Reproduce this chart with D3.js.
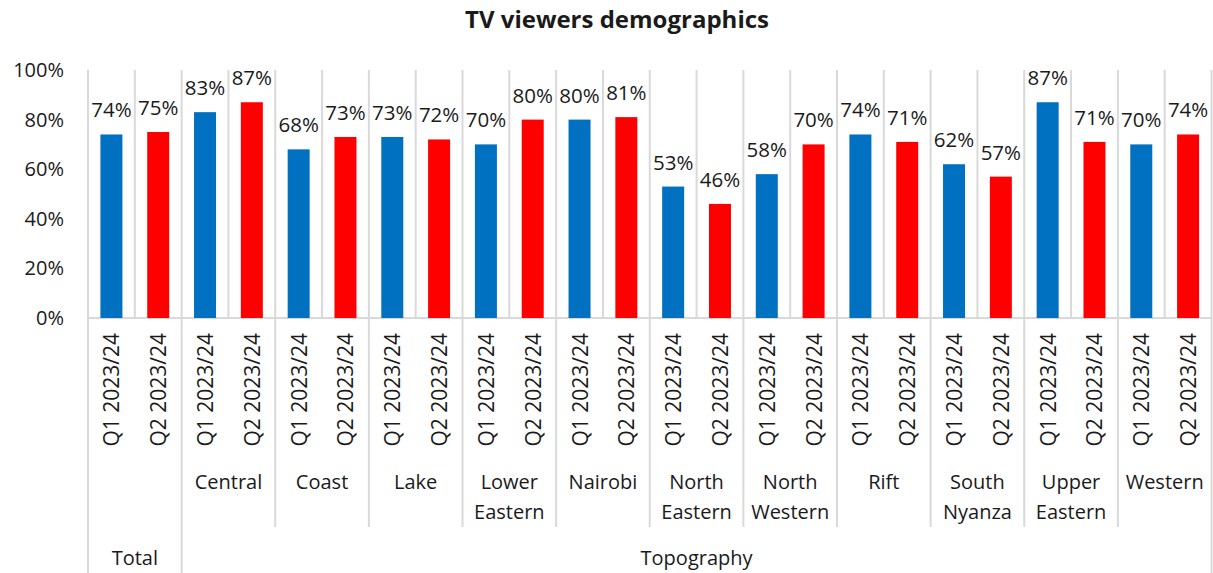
<!DOCTYPE html>
<html>
<head>
<meta charset="utf-8">
<script src="https://cdn.jsdelivr.net/npm/d3@7/dist/d3.min.js"></script>
<style>
  html, body { margin: 0; padding: 0; background: #fff; }
  svg { display: block; font-family: "Open Sans", "Noto Sans", sans-serif; }
</style>
</head>
<body>
<svg id="chart" width="1213" height="573"></svg>
<script>
// Regions (second axis level); the first group is the national total
const groups = ["", "Central", "Coast", "Lake", "Lower Eastern", "Nairobi", "North Eastern",
                "North Western", "Rift", "South Nyanza", "Upper Eastern", "Western"];
// Top axis level and how many region groups each one spans
const sections = ["Total", "Topography"];
const sectionSpans = [1, 11];
// Quarters (first axis level)
const periods = ["Q1 2023/24", "Q2 2023/24"];
// Share of respondents watching TV, per region and quarter
const q1Values = [0.74, 0.83, 0.68, 0.73, 0.70, 0.80, 0.53, 0.58, 0.74, 0.62, 0.87, 0.70];
const q2Values = [0.75, 0.87, 0.73, 0.72, 0.80, 0.81, 0.46, 0.70, 0.71, 0.57, 0.71, 0.74];
const yTicks = [0, 0.2, 0.4, 0.6, 0.8, 1.0];
const seriesColors = ["#0070C0", "#FF0000"];
const title = "TV viewers demographics";

const svg = d3.select("#chart");
const gridColor = "#d9d9d9";
const textColor = "#1a1a1a";

const plot = { left: 88, right: 1211.5, top: 70, bottom: 318 };

// One row per bar
const rows = [];
groups.forEach((g, gi) => {
  [q1Values, q2Values].forEach((vals, pi) => {
    rows.push({ key: gi + "|" + pi, group: gi, period: pi, value: vals[gi] });
  });
});

const x = d3.scaleBand()
  .domain(rows.map(d => d.key))
  .range([plot.left, plot.right])
  .paddingInner(0).paddingOuter(0);
const bw = x.bandwidth();
const barW = bw * 0.47;

const y = d3.scaleLinear().domain([0, 1]).range([plot.bottom, plot.top]);

// Title
svg.append("text")
  .attr("x", 617).attr("y", 28)
  .attr("text-anchor", "middle")
  .attr("font-size", 24).attr("font-weight", "bold")
  .attr("fill", textColor)
  .text(title);

// Y axis labels
const yAxis = d3.axisLeft(y).tickValues(yTicks).tickFormat(d3.format(".0%")).tickSize(0).tickPadding(0);
const yg = svg.append("g").attr("transform", `translate(${64},0)`).call(yAxis);
yg.select(".domain").remove();
yg.selectAll("text").attr("font-size", 20).attr("fill", textColor)
  .attr("font-family", "'Open Sans', 'Noto Sans', sans-serif");

// Vertical gridlines at every category boundary in the plot area
const boundaries = rows.map(d => x(d.key)).concat([plot.right]);
svg.append("g").selectAll("line").data(boundaries).join("line")
  .attr("x1", d => d).attr("x2", d => d)
  .attr("y1", plot.top).attr("y2", plot.bottom)
  .attr("stroke", gridColor).attr("stroke-width", 2);

// Category axis baseline
svg.append("line")
  .attr("x1", plot.left).attr("x2", plot.right)
  .attr("y1", plot.bottom).attr("y2", plot.bottom)
  .attr("stroke", gridColor).attr("stroke-width", 2);

// Bars
svg.append("g").selectAll("rect").data(rows).join("rect")
  .attr("x", d => x(d.key) + (bw - barW) / 2)
  .attr("width", barW)
  .attr("y", d => y(d.value))
  .attr("height", d => y(0) - y(d.value))
  .attr("fill", d => seriesColors[d.period]);

// Value labels
svg.append("g").selectAll("text").data(rows).join("text")
  .attr("x", d => x(d.key) + bw / 2)
  .attr("y", d => y(d.value) - 17)
  .attr("text-anchor", "middle")
  .attr("font-size", 20.5).attr("fill", textColor)
  .text(d => d3.format(".0%")(d.value));

// First axis level: quarter labels, rotated
svg.append("g").selectAll("text").data(rows).join("text")
  .attr("transform", d => `translate(${x(d.key) + bw / 2},${333}) rotate(-90)`)
  .attr("text-anchor", "end")
  .attr("dominant-baseline", "central")
  .attr("font-size", 21).attr("fill", textColor)
  .text(d => periods[d.period]);

// Second axis level: region labels and separators
const groupW = bw * periods.length;
const groupEdges = d3.range(groups.length + 1).map(i => plot.left + i * groupW);
const sectionEdgeIdx = [0];
sectionSpans.reduce((acc, s) => { sectionEdgeIdx.push(acc + s); return acc + s; }, 0);

svg.append("g").selectAll("line").data(groupEdges).join("line")
  .attr("x1", d => d).attr("x2", d => d)
  .attr("y1", plot.bottom)
  .attr("y2", (d, i) => sectionEdgeIdx.includes(i) ? 573 : 527)
  .attr("stroke", gridColor).attr("stroke-width", 2);

const gLabels = svg.append("g").selectAll("text").data(groups).join("text")
  .attr("x", (d, i) => plot.left + (i + 0.5) * groupW)
  .attr("y", 489)
  .attr("text-anchor", "middle")
  .attr("font-size", 20).attr("fill", textColor);
gLabels.each(function (d) {
  const t = d3.select(this);
  d.split(" ").filter(s => s).forEach((w, i) => {
    t.append("tspan").attr("x", t.attr("x")).attr("dy", i === 0 ? 0 : 30).text(w);
  });
});

// Third axis level: sections
let start = 0;
sections.forEach((s, i) => {
  const x0 = plot.left + start * groupW;
  const x1 = plot.left + (start + sectionSpans[i]) * groupW;
  svg.append("text")
    .attr("x", (x0 + x1) / 2).attr("y", 565)
    .attr("text-anchor", "middle")
    .attr("font-size", 20).attr("fill", textColor)
    .text(s);
  start += sectionSpans[i];
});
</script>
</body>
</html>
